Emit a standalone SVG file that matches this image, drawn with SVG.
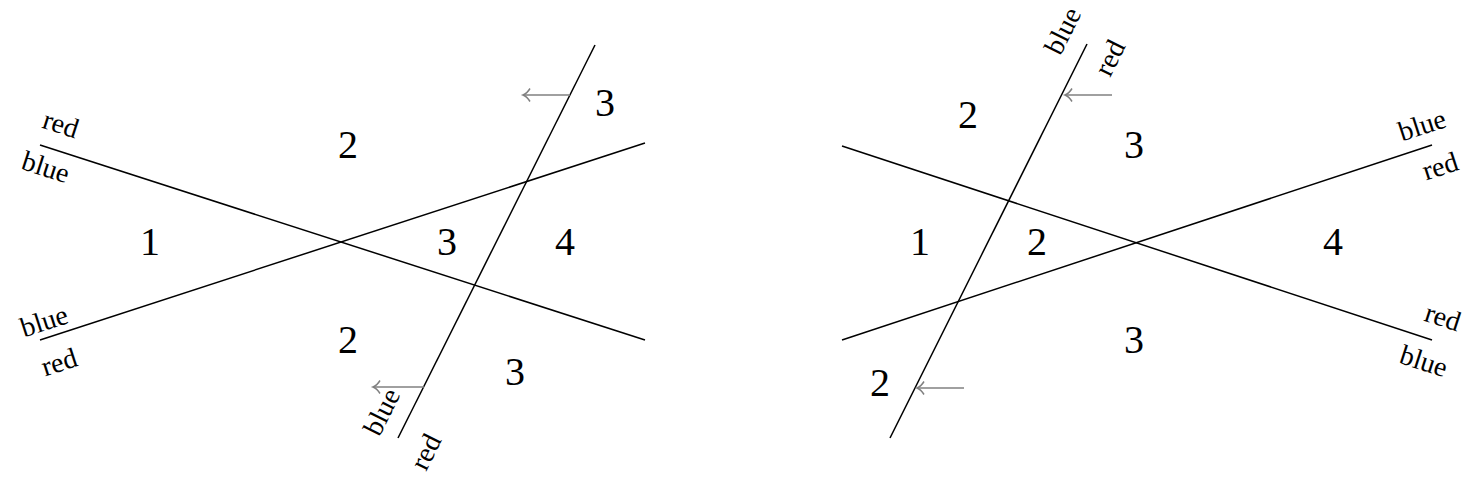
<svg xmlns="http://www.w3.org/2000/svg" width="1468" height="482" viewBox="0 0 1468 482">
<defs>
<marker id="tip" markerWidth="14" markerHeight="16" refX="9" refY="8" orient="auto" markerUnits="userSpaceOnUse">
<path d="M2,1.5 Q5,6.5 9,8 Q5,9.5 2,14.5" fill="none" stroke="#808080" stroke-width="1.5"/>
</marker>
<style>
.ln{stroke:#000;stroke-width:1.5;fill:none}
.ar{stroke:#808080;stroke-width:1.5;fill:none;marker-end:url(#tip)}
.num{font-family:"Liberation Serif",serif;font-size:40px;text-anchor:middle;fill:#000}
.lb{font-family:"Liberation Serif",serif;font-size:28px;text-anchor:middle;fill:#000}
</style>
</defs>
<rect width="1468" height="482" fill="#fff"/>
<g id="connectors">
<line class="ln" x1="40" y1="145" x2="645" y2="340"/>
<line class="ln" x1="40" y1="340" x2="645" y2="143"/>
<line class="ln" x1="398" y1="438" x2="595" y2="45"/>
<line class="ar" x1="570" y1="95" x2="523" y2="95"/>
<line class="ar" x1="424" y1="387" x2="373" y2="387"/>
<line class="ln" x1="842" y1="146" x2="1432" y2="340"/>
<line class="ln" x1="842" y1="340" x2="1432" y2="145"/>
<line class="ln" x1="890" y1="438" x2="1087" y2="44"/>
<line class="ar" x1="1112" y1="95" x2="1065" y2="95"/>
<line class="ar" x1="964" y1="388" x2="917" y2="388"/>
</g>
<g id="left-labels">
<text class="lb" transform="translate(58,133) rotate(18)">red</text>
<text class="lb" transform="translate(43,176) rotate(18)">blue</text>
<text class="lb" transform="translate(47,330) rotate(-18)">blue</text>
<text class="lb" transform="translate(62,371) rotate(-18)">red</text>
<text class="lb" transform="translate(390,416) rotate(-63.4)">blue</text>
<text class="lb" transform="translate(434,456) rotate(-63.4)">red</text>
</g>
<g id="left-regions">
<text class="num" x="348" y="158">2</text>
<text class="num" x="150" y="255">1</text>
<text class="num" x="447" y="255">3</text>
<text class="num" x="565" y="255">4</text>
<text class="num" x="348" y="353">2</text>
<text class="num" x="515" y="385">3</text>
<text class="num" x="605" y="116">3</text>
</g>
<g id="right-labels">
<text class="lb" transform="translate(1071,35) rotate(-63.4)">blue</text>
<text class="lb" transform="translate(1118,62) rotate(-63.4)">red</text>
<text class="lb" transform="translate(1425,134) rotate(-18)">blue</text>
<text class="lb" transform="translate(1443,175) rotate(-18)">red</text>
<text class="lb" transform="translate(1440,326) rotate(18)">red</text>
<text class="lb" transform="translate(1421,370) rotate(18)">blue</text>
</g>
<g id="right-regions">
<text class="num" x="968" y="128">2</text>
<text class="num" x="1134" y="158">3</text>
<text class="num" x="920" y="255">1</text>
<text class="num" x="1037" y="255">2</text>
<text class="num" x="1333" y="255">4</text>
<text class="num" x="1134" y="353">3</text>
<text class="num" x="880" y="396">2</text>
</g>
</svg>
